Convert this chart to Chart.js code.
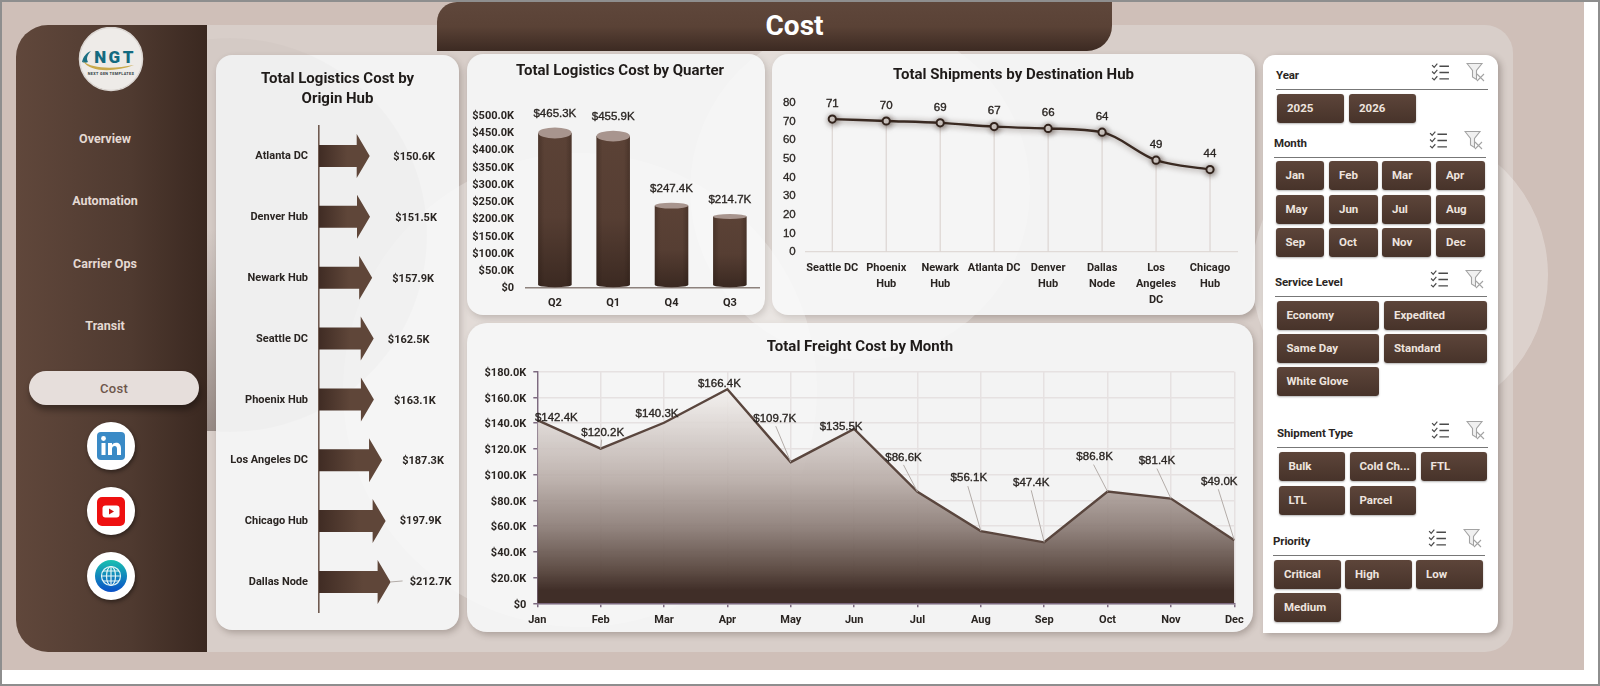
<!DOCTYPE html>
<html>
<head>
<meta charset="utf-8">
<title>Cost</title>
<script src="https://cdn.jsdelivr.net/npm/chart.js@4/dist/chart.umd.min.js"></script>
<style>
  * { box-sizing: border-box; }
  html, body { margin: 0; padding: 0; background: #fff; }
  body { position: relative; width: 1600px; height: 686px; overflow: hidden; font-family: Roboto, sans-serif; }
  .abs { position: absolute; }
  #frame { left: 0; top: 0; width: 1600px; height: 686px; border: 2px solid #8e8e8e; background: #fff; }
  #tan { left: 2px; top: 2px; width: 1582px; height: 668px; background: #cfbfb8; }
  #panel { left: 150px; top: 25px; width: 1363px; height: 627px; background: #d8cec9; border-radius: 0 28px 28px 0; }
  #strip { left: 207px; top: 230px; width: 12px; height: 201px; background: linear-gradient(180deg, rgba(90,75,70,0), rgba(90,75,70,.5)); }
  #sidebar { left: 16px; top: 25px; width: 191px; height: 627px; border-radius: 32px 0 0 32px; background: linear-gradient(90deg, #60473b 0%, #4f3a30 60%, #3a2820 100%); }
  #tab { left: 437px; top: 2px; width: 675px; height: 49px; border-radius: 20px 0 25px 0; background: linear-gradient(180deg, #5f473b 0%, #5a4236 50%, #3c2a22 100%); color: #fff; font-size: 28px; font-weight: 700; text-align: center; line-height: 47px; padding-left: 40px; }
  .card { background: #f3f3f3; box-shadow: 2px 3px 6px rgba(60,45,40,.28); border-radius: 16px; }
  .nav { left: 16px; width: 178px; text-align: center; color: #e4d9d3; font-size: 12.5px; font-weight: 700; line-height: 16px; }
  #pill { left: 29px; top: 371px; width: 170px; height: 34px; border-radius: 17px; background: #e6dedb; color: #6d564b; font-size: 13px; font-weight: 500; letter-spacing: .3px; text-align: center; line-height: 35px; box-shadow: 1px 5px 6px rgba(0,0,0,.35); }
  .social { left: 87px; width: 48px; height: 48px; border-radius: 50%; background: #fff; box-shadow: 1px 2px 4px rgba(0,0,0,.45); }
  #slicers { left: 1263px; top: 55px; width: 235px; height: 578px; background: #fff; border-radius: 12px 12px 12px 0; box-shadow: 3px 2px 6px rgba(60,45,40,.3); }
  .slabel { color: #2b2623; font-size: 11.5px; font-weight: 700; letter-spacing: -.1px; line-height: 14px; }
  .srule { height: 1.5px; background: #777; }
  .sbtn { height: 29px; border-radius: 3px; background: linear-gradient(180deg, #5d453a, #47332a); color: #eee4df; font-size: 11.5px; font-weight: 700; line-height: 29px; padding-left: 10px; white-space: nowrap; box-shadow: 0 1px 2px rgba(0,0,0,.3); }
  canvas { position: absolute; display: block; }
</style>
</head>
<body>
<div class="abs" id="frame"></div>
<div class="abs" id="tan"></div>
<div class="abs" id="panel"></div>
<svg class="abs" style="left:0;top:0" width="1600" height="686">
  <circle cx="1400" cy="275" r="148" fill="#fff" fill-opacity=".12"/>
  <circle cx="860" cy="190" r="170" fill="#fff" fill-opacity=".12"/>
  <circle cx="580" cy="390" r="237" fill="#fff" fill-opacity=".1"/>
</svg>
<div class="abs" id="strip"></div>
<div class="abs card" style="left:216px;top:55px;width:243px;height:575px"></div>
<div class="abs card" style="left:467px;top:54px;width:298px;height:261px"></div>
<div class="abs card" style="left:772px;top:54px;width:483px;height:261px"></div>
<div class="abs card" style="left:467px;top:323px;width:786px;height:309px;border-radius:20px"></div>
<svg class="abs" style="left:0;top:0" width="1600" height="686">
  <circle cx="860" cy="190" r="170" fill="#fff" fill-opacity=".2"/>
  <circle cx="580" cy="390" r="237" fill="#fff" fill-opacity=".2"/>
  <circle cx="1400" cy="275" r="148" fill="#fff" fill-opacity=".2"/>
  <circle cx="230" cy="235" r="197" fill="#000" fill-opacity=".015"/>
</svg>

<div class="abs" id="sidebar"></div>
<div class="abs" id="tab">Cost</div>

<!-- logo -->
<svg class="abs" style="left:78px;top:27px" width="66" height="66" viewBox="0 0 66 66">
  <circle cx="33" cy="32" r="31.5" fill="#eeebe8" stroke="#dcd7d3" stroke-width="1.5"/>
  <path d="M4 35 C5 30 8 26 13 24 C9 28 8 32 10 35 C8 36 6 36 4 35Z" fill="#1c6f82"/>
  <path d="M5 34 C14 42 36 42 56 38 C38 45 12 46 5 34Z" fill="#c9a94a"/>
  <text x="37" y="36" text-anchor="middle" font-family="Roboto" font-weight="900" font-size="17" letter-spacing="2.5" fill="#146a80">NGT</text>
  <text x="33" y="48" text-anchor="middle" font-family="Roboto" font-weight="700" font-size="3.8" letter-spacing=".35" fill="#2d3a3e">NEXT GEN TEMPLATES</text>
</svg>

<div class="abs nav" style="top:131px">Overview</div>
<div class="abs nav" style="top:193px">Automation</div>
<div class="abs nav" style="top:256px">Carrier Ops</div>
<div class="abs nav" style="top:318px">Transit</div>
<div class="abs" id="pill">Cost</div>

<div class="abs social" style="top:422px">
  <svg width="48" height="48" viewBox="0 0 48 48">
    <rect x="10" y="10" width="28" height="28" rx="4" fill="#3a8ac6"/>
    <rect x="14.5" y="21" width="4" height="12" fill="#fff"/>
    <circle cx="16.5" cy="16.5" r="2.4" fill="#fff"/>
    <path d="M21 21h4v2c1-1.6 2.4-2.3 4-2.3 3.2 0 5 2 5 5.6V33h-4v-6c0-2-.8-3-2.3-3s-2.7 1-2.7 3v6h-4z" fill="#fff"/>
  </svg>
</div>
<div class="abs social" style="top:487px">
  <svg width="48" height="48" viewBox="0 0 48 48">
    <rect x="10" y="10" width="28" height="29" rx="5" fill="#ee1010"/>
    <rect x="15.5" y="18.5" width="17" height="12" rx="3" fill="#fff"/>
    <path d="M22 21.5l5 3-5 3z" fill="#d01010"/>
  </svg>
</div>
<div class="abs social" style="top:552px">
  <svg width="48" height="48" viewBox="0 0 48 48">
    <defs><linearGradient id="globeFill" x1="0" y1="0" x2="0" y2="1"><stop offset="0" stop-color="#19c0b0"/><stop offset="1" stop-color="#0a4fc8"/></linearGradient></defs>
    <circle cx="24" cy="24" r="16" fill="url(#globeFill)"/>
    <g fill="none" stroke="#e4f4f6" stroke-width="1.2">
      <circle cx="24" cy="24" r="9.5"/>
      <ellipse cx="24" cy="24" rx="4.5" ry="9.5"/>
      <path d="M24 14.5v19M14.5 24h19M16 19h16M16 29h16"/>
    </g>
  </svg>
</div>

<div class="abs" id="slicers"></div>
<div id="slicerHost"></div>

<canvas id="originChart" width="243" height="575" style="left:216px;top:55px"></canvas>
<canvas id="quarterChart" width="306" height="261" style="left:467px;top:54px"></canvas>
<canvas id="destChart" width="483" height="261" style="left:772px;top:54px"></canvas>
<canvas id="monthChart" width="786" height="309" style="left:467px;top:323px"></canvas>

<script>
// Chart data (cost values in $K)
const originHubs = ["Atlanta DC", "Denver Hub", "Newark Hub", "Seattle DC", "Phoenix Hub", "Los Angeles DC", "Chicago Hub", "Dallas Node"];
const originCost = [150.6, 151.5, 157.9, 162.5, 163.1, 187.3, 197.9, 212.7];

const quarters = ["Q2", "Q1", "Q4", "Q3"];
const quarterCost = [465.3, 455.9, 247.4, 214.7];

const destHubs = ["Seattle DC", ["Phoenix", "Hub"], ["Newark", "Hub"], "Atlanta DC", ["Denver", "Hub"], ["Dallas", "Node"], ["Los", "Angeles", "DC"], ["Chicago", "Hub"]];
const destShipments = [71, 70, 69, 67, 66, 64, 49, 44];

const months = ["Jan", "Feb", "Mar", "Apr", "May", "Jun", "Jul", "Aug", "Sep", "Oct", "Nov", "Dec"];
const freightCost = [142.4, 120.2, 140.3, 166.4, 109.7, 135.5, 86.6, 56.1, 47.4, 86.8, 81.4, 49.0];

// Slicer captions and items
const years = ["2025", "2026"];
const serviceLevels = ["Economy", "Expedited", "Same Day", "Standard", "White Glove"];
const shipmentTypes = ["Bulk", "Cold Ch...", "FTL", "LTL", "Parcel"];
const priorities = ["Critical", "High", "Low", "Medium"];

const TEXT = "#2a2522";
const UI_FONT = "Roboto";
const NUM_FONT = "'Liberation Sans'";
const money = v => v === 0 ? "$0" : `$${v.toFixed(1)}K`;

Chart.defaults.animation = false;
Chart.defaults.responsive = false;
Chart.defaults.plugins.legend.display = false;
Chart.defaults.plugins.tooltip.enabled = false;

function makeTitle(text, top, bottom) {
  return {
    display: true, text, color: "#1f1b19",
    font: { family: UI_FONT, size: 15, weight: "700", lineHeight: Array.isArray(text) ? 1.373 : 1.2 },
    padding: { top, bottom }
  };
}

// Empty axis on the right: keeps a margin beside the plot but lets the title centre on the whole canvas
function rightGap(width) {
  return {
    axis: "y", position: "right",
    afterFit(s) { s.width = width; },
    grid: { display: false, drawTicks: false },
    border: { display: false },
    ticks: { display: false }
  };
}

// Text labels for the marks, optional thin leader lines back to the mark
const valueLabels = {
  id: "valueLabels",
  afterDatasetsDraw(chart, args, opts) {
    const { ctx } = chart;
    ctx.save();
    ctx.font = `${opts.weight || "700"} ${opts.size || 11}px ${opts.family || NUM_FONT}`;
    ctx.textAlign = "center";
    ctx.textBaseline = "middle";
    chart.getDatasetMeta(0).data.forEach((el, i) => {
      const v = chart.data.datasets[0].data[i];
      const [dx, dy] = opts.nudge ? opts.nudge[i] : opts.offset;
      const lx = el.x + dx, ly = el.y + dy;
      const lead = opts.leaders && opts.leaders[i];
      if (lead) {
        ctx.strokeStyle = "#b3aca8";
        ctx.lineWidth = 1;
        ctx.beginPath();
        ctx.moveTo(el.x, el.y);
        ctx.lineTo(lx + lead[0], ly + lead[1]);
        ctx.stroke();
      }
      const text = opts.format(v);
      ctx.fillStyle = TEXT;
      ctx.fillText(text, lx, ly + 1.5);
      if (opts.stroke) {
        ctx.strokeStyle = TEXT;
        ctx.lineWidth = opts.stroke;
        ctx.strokeText(text, lx, ly + 1.5);
      }
    });
    ctx.restore();
  }
};

// Origin hub bars are painted as block arrows
const arrowBars = {
  id: "arrowBars",
  afterDatasetsDraw(chart) {
    const { ctx } = chart;
    chart.getDatasetMeta(0).data.forEach(el => {
      const half = el.height / 2, shaft = half / 2, headLen = 13;
      const neck = el.x - headLen;
      const g = ctx.createLinearGradient(el.base, 0, neck, 0);
      g.addColorStop(0, "#402c24");
      g.addColorStop(0.75, "#5f4639");
      g.addColorStop(1, "#5f4639");
      ctx.fillStyle = g;
      ctx.beginPath();
      ctx.moveTo(el.base, el.y - shaft);
      ctx.lineTo(neck, el.y - shaft);
      ctx.lineTo(neck, el.y - half);
      ctx.lineTo(el.x, el.y);
      ctx.lineTo(neck, el.y + half);
      ctx.lineTo(neck, el.y + shaft);
      ctx.lineTo(el.base, el.y + shaft);
      ctx.closePath();
      ctx.fill();
    });
  }
};

// Quarter bars are painted as cylinders with a lit top ellipse
const cylinderBars = {
  id: "cylinderBars",
  afterDatasetsDraw(chart) {
    const { ctx } = chart;
    chart.getDatasetMeta(0).data.forEach(el => {
      const rx = el.width / 2, h = el.base - el.y;
      const ry = h * 0.034, bottomRy = 2.5;
      const topY = el.y + ry, baseY = el.base - 1 - bottomRy;
      const g = ctx.createLinearGradient(0, topY, 0, baseY);
      g.addColorStop(0, "#5b4236");
      g.addColorStop(0.55, "#563e33");
      g.addColorStop(1, "#3c2a22");
      ctx.fillStyle = g;
      ctx.beginPath();
      ctx.moveTo(el.x - rx, topY);
      ctx.lineTo(el.x - rx, baseY);
      ctx.ellipse(el.x, baseY, rx, bottomRy, 0, Math.PI, 0, true);
      ctx.lineTo(el.x + rx, topY);
      ctx.closePath();
      ctx.fill();
      const side = ctx.createLinearGradient(el.x - rx, 0, el.x + rx, 0);
      side.addColorStop(0, "rgba(30,18,12,.28)");
      side.addColorStop(0.18, "rgba(30,18,12,0)");
      side.addColorStop(0.82, "rgba(30,18,12,0)");
      side.addColorStop(1, "rgba(30,18,12,.28)");
      ctx.fillStyle = side;
      ctx.fill();
      ctx.fillStyle = "#a8958e";
      ctx.beginPath();
      ctx.ellipse(el.x, topY, rx, ry, 0, 0, Math.PI * 2);
      ctx.fill();
    });
  }
};

// Drop lines under each point, soft shadow under the line itself
const dropShadow = {
  id: "dropShadow",
  beforeDatasetsDraw(chart) {
    const { ctx, scales } = chart;
    ctx.save();
    ctx.strokeStyle = "#dcd5d2";
    ctx.lineWidth = 1.2;
    chart.getDatasetMeta(0).data.forEach(p => {
      ctx.beginPath();
      ctx.moveTo(p.x, p.y);
      ctx.lineTo(p.x, scales.y.bottom);
      ctx.stroke();
    });
    ctx.restore();
    ctx.save();
    ctx.shadowColor = "rgba(45,28,20,.6)";
    ctx.shadowBlur = 6;
    ctx.shadowOffsetX = 1;
    ctx.shadowOffsetY = 1;
  },
  afterDatasetsDraw(chart) {
    chart.ctx.restore();
  }
};

// Total Logistics Cost by Origin Hub
new Chart(document.getElementById("originChart"), {
  type: "bar",
  data: {
    labels: originHubs,
    datasets: [{ data: originCost, backgroundColor: "transparent", barThickness: 44 }]
  },
  plugins: [arrowBars, valueLabels],
  options: {
    indexAxis: "y",
    layout: { padding: { bottom: 16.5 } },
    plugins: {
      title: makeTitle(["Total Logistics Cost by", "Origin Hub"], 13.5, 15.8),
      valueLabels: {
        format: money, family: UI_FONT, size: 11,
        nudge: [[44.5, 0], [46, 0], [41, 0], [35, 0], [41, 0], [41, 0], [35, -1], [40, -1]],
        leaders: { 7: [-28, 0] }
      }
    },
    scales: {
      x: { display: false, min: 0, max: 300 },
      y: {
        afterFit(s) { s.width = 103; },
        grid: { display: false, drawTicks: false },
        border: { display: true, color: "#6f5a50", width: 1.6 },
        ticks: { color: TEXT, padding: 11, labelOffset: 0.5, font: { family: UI_FONT, weight: "700", size: 11 } }
      },
      yGap: rightGap(39)
    }
  }
});

// Total Logistics Cost by Quarter
new Chart(document.getElementById("quarterChart"), {
  type: "bar",
  data: {
    labels: quarters,
    datasets: [{ data: quarterCost, backgroundColor: "transparent", barThickness: 33.5 }]
  },
  plugins: [cylinderBars, valueLabels],
  options: {
    plugins: {
      title: makeTitle("Total Logistics Cost by Quarter", 8.3, 35.2),
      valueLabels: { format: money, weight: "400", size: 11.5, stroke: 0.35, offset: [0, -15.5] }
    },
    scales: {
      x: {
        afterFit(s) { s.height = 26.8; },
        grid: { display: false, drawTicks: false },
        border: { display: true, color: "#8d827d", width: 1.5 },
        ticks: { color: TEXT, padding: 8.5, font: { family: UI_FONT, weight: "700", size: 11 } }
      },
      y: {
        min: 0, max: 500,
        afterFit(s) { s.width = 58.7; },
        grid: { display: false, drawTicks: false },
        border: { display: false },
        ticks: { color: TEXT, padding: 11.7, stepSize: 50, labelOffset: 0.5, callback: money, font: { family: UI_FONT, weight: "700", size: 11 } }
      },
      yGap: rightGap(14)
    }
  }
});

// Total Shipments by Destination Hub
new Chart(document.getElementById("destChart"), {
  type: "line",
  data: {
    labels: destHubs,
    datasets: [{
      data: destShipments,
      borderColor: "#3a2a22",
      borderWidth: 2.4,
      cubicInterpolationMode: "monotone",
      pointRadius: 3.6,
      pointBorderWidth: 2,
      pointBackgroundColor: "#ece7e3",
      pointBorderColor: "#33241d"
    }]
  },
  plugins: [dropShadow, valueLabels],
  options: {
    plugins: {
      title: makeTitle("Total Shipments by Destination Hub", 12, 18.3),
      valueLabels: { format: v => String(v), weight: "400", size: 11.5, stroke: 0.35, offset: [0, -17] }
    },
    scales: {
      x: {
        offset: true,
        afterFit(s) { s.height = 63.3; },
        grid: { display: false, drawTicks: false },
        border: { display: true, color: "#e0dad7", width: 1.2 },
        ticks: { color: TEXT, padding: 9, maxRotation: 0, autoSkip: false, font: { family: UI_FONT, weight: "700", size: 11, lineHeight: 1.42 } }
      },
      y: {
        min: 0, max: 80,
        afterFit(s) { s.width = 33.3; },
        grid: { display: false, drawTicks: false },
        border: { display: false },
        ticks: { color: TEXT, padding: 9.6, stepSize: 10, labelOffset: 0.5, textStrokeColor: TEXT, textStrokeWidth: 0.3, font: { family: NUM_FONT, size: 11.5 } }
      },
      yGap: rightGap(18)
    }
  }
});

// Total Freight Cost by Month
const areaCtx = document.getElementById("monthChart").getContext("2d");
new Chart(areaCtx, {
  type: "line",
  data: {
    labels: months,
    datasets: [{
      data: freightCost,
      borderColor: "#5a463e",
      borderWidth: 2.4,
      tension: 0,
      pointRadius: 0,
      fill: "origin",
      backgroundColor(ctx) {
        const { chart } = ctx;
        if (!chart.chartArea) return "#8d7e78";
        const top = chart.scales.y.getPixelForValue(Math.max(...freightCost));
        const g = chart.ctx.createLinearGradient(0, top, 0, chart.chartArea.bottom);
        g.addColorStop(0, "rgba(243,240,238,.88)");
        g.addColorStop(0.425, "rgba(184,172,167,.93)");
        g.addColorStop(0.645, "rgba(141,126,120,.95)");
        g.addColorStop(0.845, "rgba(90,72,64,.97)");
        g.addColorStop(0.94, "#402e28");
        g.addColorStop(1, "#402e28");
        return g;
      }
    }]
  },
  plugins: [valueLabels],
  options: {
    plugins: {
      title: makeTitle("Total Freight Cost by Month", 15, 15.7),
      valueLabels: {
        format: money, weight: "400", size: 11.5, stroke: 0.35,
        nudge: [[19, -4], [2, -17], [-7, -10], [-8, -7], [-16, -45], [-13, -4], [-14, -36], [-12, -55], [-13, -61], [-13, -36], [-14, -39], [-15, -60]],
        leaders: { 1: [-1, 8], 4: [1, 9], 6: [0, 9], 7: [-1, 10], 8: [0, 9], 9: [-1, 9], 10: [0, 9], 11: [-1, 9] }
      }
    },
    scales: {
      x: {
        offset: false,
        afterFit(s) { s.height = 28.7; },
        grid: { color: "#e6e1e1", lineWidth: 1.5, tickColor: "#7d6a80", tickLength: 4 },
        border: { display: true, color: "#7d6a80", width: 1.4 },
        ticks: { color: TEXT, padding: 6, maxRotation: 0, autoSkip: false, font: { family: UI_FONT, weight: "700", size: 11 } }
      },
      y: {
        min: 0, max: 180,
        afterFit(s) { s.width = 70.3; },
        grid: { color: "#e6e1e1", lineWidth: 1.5, tickColor: "#7d6a80", tickLength: 4 },
        border: { display: true, color: "#7d6a80", width: 1.4 },
        ticks: { color: TEXT, padding: 7, stepSize: 20, labelOffset: 1.5, callback: money, font: { family: UI_FONT, weight: "700", size: 11 } }
      },
      yGap: rightGap(18.7)
    }
  }
});

// Slicer panel on the right
const ICONS = `
  <svg width="19" height="19" viewBox="0 0 18 18" fill="none" stroke="#4a4a4a" stroke-width="1.1">
    <path d="M1 3l2 2 3-3.5M1 9l2 2 3-3.5M1 15l2 2 3-3.5"/><path d="M8 4h9M8 10h9M8 16h9" stroke-width="1.3"/>
  </svg>
  <svg style="margin-left:16px" width="20" height="20" viewBox="0 0 20 20" fill="none" stroke="#a3a3a3" stroke-width="1.1">
    <path d="M1 1.5h15l-5.5 7v9l-4-2.5v-6.5z" fill="#f0f0f0"/><path d="M11 12l7 7M18 12l-7 7"/>
  </svg>`;

function addSlicer(title, items, x, y, lineW, colX, colW, rows) {
  const host = document.getElementById("slicerHost");
  const head = document.createElement("div");
  head.className = "abs slabel";
  head.style.cssText = `left:${x}px;top:${y}px`;
  head.textContent = title;
  host.appendChild(head);
  const icons = document.createElement("div");
  icons.className = "abs";
  icons.style.cssText = `left:${x + lineW - 57}px;top:${y - 6}px;display:flex`;
  icons.innerHTML = ICONS;
  host.appendChild(icons);
  const rule = document.createElement("div");
  rule.className = "abs srule";
  rule.style.cssText = `left:${x}px;top:${y + 20.5}px;width:${lineW}px`;
  host.appendChild(rule);
  items.forEach((label, i) => {
    const b = document.createElement("div");
    b.className = "abs sbtn";
    const col = i % colX.length, row = Math.floor(i / colX.length);
    b.style.cssText = `left:${colX[col]}px;top:${rows[row]}px;width:${colW}px`;
    b.textContent = label;
    host.appendChild(b);
  });
}

addSlicer("Year", years, 1276, 68, 212, [1277, 1349], 66.5, [94]);
addSlicer("Month", months, 1274, 136, 212, [1275.5, 1329, 1382, 1436], 48.5, [161, 195, 228]);
addSlicer("Service Level", serviceLevels, 1275, 275, 212, [1276.5, 1384], 102.5, [301, 334, 367]);
addSlicer("Shipment Type", shipmentTypes, 1277, 426, 211, [1278.5, 1349.5, 1420.5], 66.5, [452, 485.5]);
addSlicer("Priority", priorities, 1273, 534, 212, [1274, 1345, 1416], 66.5, [559.5, 593]);
</script>
</body>
</html>
